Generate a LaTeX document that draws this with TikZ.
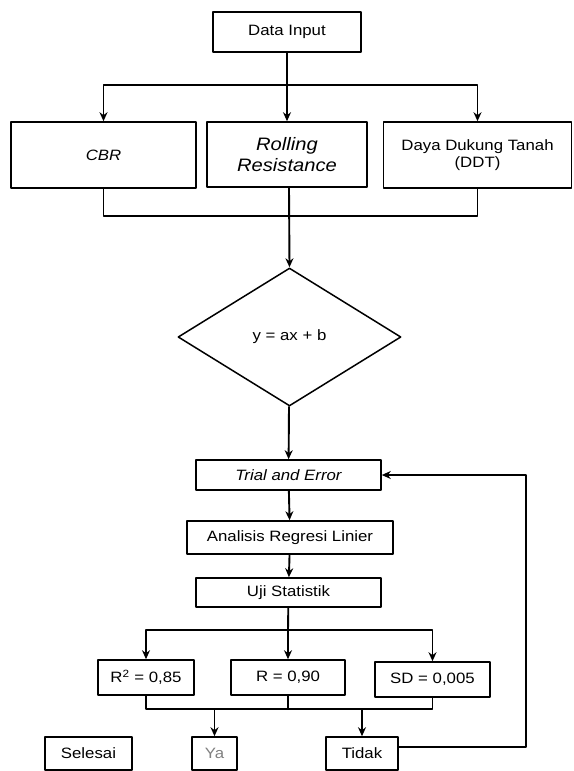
\documentclass[tikz,border=0pt]{standalone}
\usepackage{fontspec}
\setmainfont[FakeStretch=1.12]{Liberation Sans}
\usetikzlibrary{arrows.meta,shapes.geometric}
\begin{document}
\begin{tikzpicture}[x=1pt,y=-1pt,>={Stealth[length=9pt,width=8pt]},line join=round,
	font=\fontsize{15}{17}\selectfont,line width=1.9pt,
	box/.style={draw,rectangle,inner sep=0pt,align=center,line width=1.6pt}]
	\useasboundingbox (0,0) rectangle (573,771);
	% kotak atas
	\node[box,minimum width=148,minimum height=40] (input) at (287,32) {Data Input};
	\node[box,minimum width=185,minimum height=66] (cbr) at (103.5,155) {\itshape CBR};
	\node[box,minimum width=160,minimum height=65,font=\fontsize{18}{21}\selectfont] (rr) at (287,154.5) {\itshape Rolling\\\itshape Resistance};
	\node[box,minimum width=188,minimum height=66] (ddt) at (477.5,155) {Daya Dukung Tanah\\(DDT)};
	\node[draw,diamond,aspect=1.62,minimum width=223,minimum height=138,inner sep=0pt,line width=1.5pt] (persamaan) at (289.5,337) {y = ax + b};
	% proses
	\node[box,minimum width=185,minimum height=30,font=\fontsize{15}{17}\selectfont\itshape] (trial) at (288.5,475) {Trial and Error};
	\node[box,minimum width=206,minimum height=33] (regresi) at (290,537.5) {Analisis Regresi Linier};
	\node[box,minimum width=185,minimum height=29] (uji) at (288.5,592.5) {Uji Statistik};
	\node[box,minimum width=96,minimum height=35] (rdua) at (146,677.5) {R\textsuperscript{2} = 0,85};
	\node[box,minimum width=114,minimum height=35] (rsatu) at (288,677.5) {R = 0,90};
	\node[box,minimum width=115,minimum height=35] (sd) at (432.5,679.5) {SD = 0,005};
	\node[box,minimum width=87,minimum height=33] (selesai) at (88.5,753.5) {Selesai};
	\node[box,minimum width=45,minimum height=33,text=gray] (ya) at (214.5,753.5) {Ya};
	\node[box,minimum width=72,minimum height=33] (tidak) at (362,753.5) {Tidak};
	% titik cabang
	\coordinate (cabang1) at (287,85);
	\coordinate (gabung1) at (289,216);
	\coordinate (cabang2) at (288,630);
	\coordinate (gabung2) at (288,709);
	\coordinate (balik) at (526,747);
	% garis
	\draw (input) -- (cabang1);
	\draw[->] (cabang1) -- (rr);
	\draw[->] (cabang1) -| (cbr);
	\draw[->] (cabang1) -| (ddt);
	\draw[line width=1.5pt] (cbr.south) |- (gabung1) -| (ddt.south);
	\draw[->] (rr.south -| gabung1) -- (persamaan.north);
	\draw[->] (persamaan) -- (trial);
	\draw[->] (trial) -- (regresi);
	\draw[->] (regresi) -- (uji);
	\draw (uji) -- (cabang2);
	\draw[->] (cabang2) -- (rsatu);
	\draw[->] (cabang2) -| (rdua);
	\draw[->] (cabang2) -| (sd);
	\draw[line width=1.5pt] (rdua.south) |- (gabung2) -| (sd.south);
	\draw[line width=1.5pt] (rsatu) -- (gabung2);
	\draw[->] (gabung2 -| ya) -- (ya);
	\draw[->] (gabung2 -| tidak) -- (tidak);
	\draw[->,line width=1.5pt] (tidak.east |- balik) -- (balik) |- (trial.east);
\end{tikzpicture}
\end{document}
